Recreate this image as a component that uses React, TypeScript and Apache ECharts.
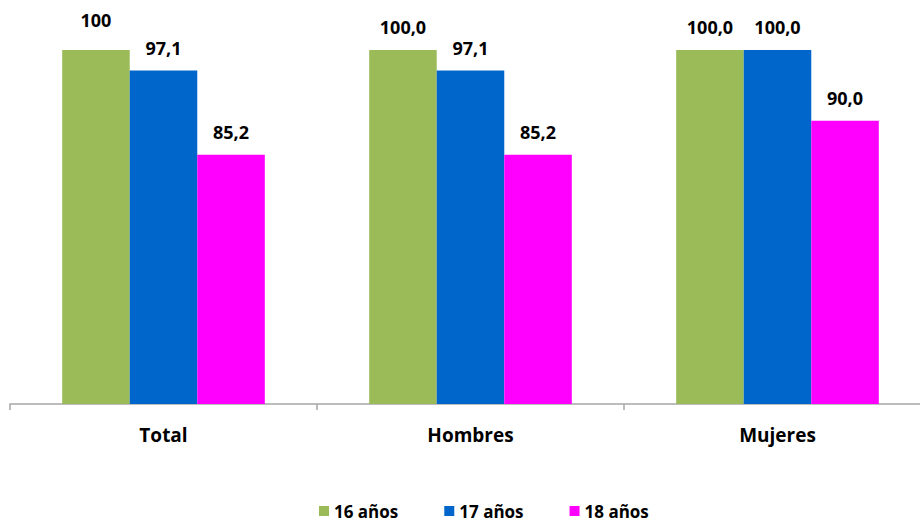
import React, { useEffect, useRef } from "react";
import * as echarts from "echarts";

const categories = ["Total", "Hombres", "Mujeres"];
const seriesNames = ["16 años", "17 años", "18 años"];
const values16 = [100, 100, 100];
const values17 = [97.1, 97.1, 100];
const values18 = [85.2, 85.2, 90];
const labels16 = ["100", "100,0", "100,0"];
const labels17 = ["97,1", "97,1", "100,0"];
const labels18 = ["85,2", "85,2", "90,0"];
const colors = ["#9BBB59", "#0066CC", "#FF00FF"];

export default function App() {
  const ref = useRef<HTMLDivElement>(null);
  useEffect(() => {
    if (!ref.current) return;
    const chart = echarts.init(ref.current, null, { renderer: "svg" });
    const font = "'Open Sans', 'Liberation Sans', sans-serif";
    const mk = (i: number, vals: number[], labs: string[]) => ({
      name: seriesNames[i],
      type: "bar",
      data: vals.map((v, j) =>
        labs[j] === "100" ? { value: v, label: { distance: 21 } } : v
      ),
      barGap: "0%",
      barCategoryGap: "34%",
      itemStyle: { color: colors[i] },
      label: {
        show: true,
        position: "top",
        distance: 14,
        color: "#000",
        fontFamily: font,
        fontWeight: "bold",
        fontSize: 18,
        formatter: (p: any) => labs[p.dataIndex],
      },
    });
    chart.setOption({
      animation: false,
      backgroundColor: "#fff",
      grid: { left: 10, top: 50, right: 0, height: 354, containLabel: false },
      legend: {
        left: 314,
        top: 497,
        itemWidth: 10,
        itemHeight: 10,
        itemGap: 46,
        icon: "rect",
        textStyle: { fontFamily: font, fontWeight: "bold", fontSize: 17, lineHeight: 18, color: "#000" },
        data: seriesNames,
      },
      xAxis: {
        type: "category",
        data: categories,
        axisLine: { show: true, lineStyle: { color: "#A6A6A6", width: 1.5 } },
        axisTick: { show: true, length: 6, lineStyle: { color: "#A6A6A6", width: 1.5 } },
        axisLabel: { margin: 21, fontFamily: font, fontWeight: "bold", fontSize: 19, color: "#000" },
      },
      yAxis: {
        type: "value",
        min: 50,
        max: 100,
        show: false,
        splitLine: { show: false },
      },
      series: [mk(0, values16, labels16), mk(1, values17, labels17), mk(2, values18, labels18)],
    });
    return () => chart.dispose();
  }, []);
  return <div ref={ref} style={{ position: "fixed", left: 0, top: 0, width: 931, height: 522 }} />;
}
